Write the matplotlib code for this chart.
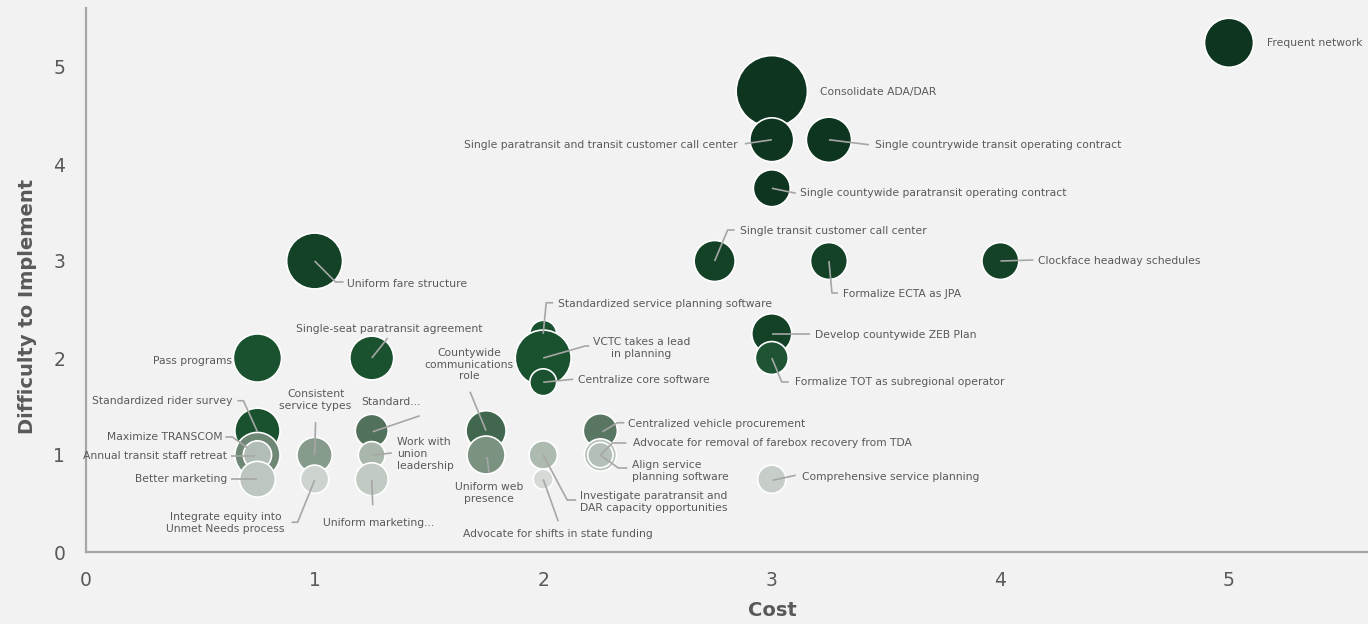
import matplotlib.pyplot as plt
from matplotlib.colors import LinearSegmentedColormap

# initiatives: cost, difficulty, bubble size (impact), colour score
names = [
    "Frequent network", "Consolidate ADA/DAR",
    "Single paratransit and transit customer call center",
    "Single countrywide transit operating contract",
    "Single countywide paratransit operating contract",
    "Single transit customer call center", "Formalize ECTA as JPA",
    "Clockface headway schedules", "Uniform fare structure", "Pass programs",
    "Single-seat paratransit agreement", "Standardized service planning software",
    "VCTC takes a lead\nin planning", "Centralize core software",
    "Develop countywide ZEB Plan", "Formalize TOT as subregional operator",
    "Standardized rider survey", "Maximize TRANSCOM", "Annual transit staff retreat",
    "Better marketing", "Consistent\nservice types", "Integrate equity into\nUnmet Needs process",
    "Standard...", "Work with\nunion\nleadership", "Uniform marketing...",
    "Countywide\ncommunications\nrole", "Uniform web\npresence",
    "Investigate paratransit and\nDAR capacity opportunities",
    "Advocate for shifts in state funding", "Centralized vehicle procurement",
    "Advocate for removal of farebox recovery from TDA",
    "Align service\nplanning software", "Comprehensive service planning",
]
cost = [5, 3, 3, 3.25, 3, 2.75, 3.25, 4, 1, 0.75,
        1.25, 2, 2, 2, 3, 3, 0.75, 0.75, 0.75, 0.75,
        1, 1, 1.25, 1.25, 1.25, 1.75, 1.75, 2, 2, 2.25,
        2.25, 2.25, 3]
difficulty = [5.25, 4.75, 4.25, 4.25, 3.75, 3, 3, 3, 3, 2,
              2, 2.25, 2, 1.75, 2.25, 2, 1.25, 1, 1, 0.75,
              1, 0.75, 1.25, 1, 0.75, 1.25, 1, 1, 0.75, 1.25,
              1, 1, 0.75]
impact = [6.0, 12.7, 4.8, 5.1, 3.4, 4.2, 3.4, 3.4, 7.8, 5.8,
          4.8, 1.8, 7.8, 1.8, 4.0, 2.7, 5.1, 5.1, 2.0, 3.2,
          3.1, 2.0, 2.7, 1.8, 2.7, 4.0, 3.6, 2.0, 1.0, 2.9,
          2.6, 1.6, 2.0]
score = [1.0, 1.0, 1.0, 1.0, 1.0, 0.93, 0.93, 0.93, 0.93, 0.85,
         0.85, 0.85, 0.85, 0.85, 0.93, 0.83, 0.85, 0.45, 0.16, 0.11,
         0.35, 0.04, 0.58, 0.2, 0.09, 0.66, 0.4, 0.18, 0.0, 0.55,
         0.13, 0.15, 0.07]

# label placement: text offset (px), alignment, leader line vertices (px from bubble centre)
layout = {
    0: (38, 0, "left", None),
    1: (48, 1, "left", None),
    2: (-34, 5, "right", [(0, 0), (-27, 4)]),
    3: (46, 5, "left", [(0, 0), (40, 5)]),
    4: (28, 5, "left", [(0, 0), (24, 5)]),
    5: (25, -30, "left", [(0, 0), (13, -31), (20, -31)]),
    6: (14, 33, "left", [(0, 0), (3, 32), (9, 32)]),
    7: (38, 0, "left", [(0, 0), (33, -1)]),
    8: (32, 23, "left", [(0, 0), (21, 21), (29, 21)]),
    9: (-25, 3, "right", None),
    10: (17, -29, "center", [(0, 0), (16, -20)]),
    11: (15, -30, "left", [(0, 0), (3, -31), (10, -31)]),
    12: (98, -10, "center", [(0, 0), (42, -12), (46, -12)]),
    13: (35, -2, "left", [(0, 0), (30, -3)]),
    14: (43, 1, "left", [(0, 0), (38, 0)]),
    15: (23, 24, "left", [(0, 0), (10, 24), (17, 24)]),
    16: (-25, -30, "right", [(-20, -30), (-14, -30), (0, 1)]),
    17: (-35, -18, "right", [(-32, -18), (-25, -18), (-10, -7)]),
    18: (-30, 1, "right", [(-26, 1), (-2, 1)]),
    19: (-30, 0, "right", [(-26, 0), (0, 0)]),
    20: (1, -55, "center", [(1, -33), (0, 0)]),
    21: (-30, 44, "right", [(-23, 43), (-17, 43), (0, 1)]),
    22: (19, -29, "center", [(48, -15), (1, 1)]),
    23: (25, -1, "left", [(1, 0), (20, -2)]),
    24: (7, 44, "center", [(0, 1), (1, 26)]),
    25: (-17, -66, "center", [(-16, -39), (0, 0)]),
    26: (3, 38, "center", [(1, 2), (3, 18)]),
    27: (37, 47, "left", [(0, 0), (24, 45), (33, 45)]),
    28: (15, 55, "center", [(0, 0), (15, 42)]),
    29: (28, -7, "left", [(2, 1), (17, -8), (24, -8)]),
    30: (33, -12, "left", [(0, 0), (12, -12), (26, -12)]),
    31: (32, 16, "left", [(0, 0), (18, 13), (27, 13)]),
    32: (30, -2, "left", [(1, 1), (24, -4)]),
}

W, H = 1368, 624
fig = plt.figure(figsize=(W / 100, H / 100), dpi=100, facecolor="#f2f2f2")
ax = fig.add_axes([86 / W, 72 / H, 1282 / W, 544 / H])
ax.set_facecolor("#f2f2f2")
xmax, ymax = 1282 / 228.6, 544 / 97
ax.set_xlim(0, xmax)
ax.set_ylim(0, ymax)
px_x = 1282 / xmax
px_y = 544 / ymax

cmap = LinearSegmentedColormap.from_list(
    "grn", [(0, "#d6dad7"), (0.35, "#869b8b"), (0.6, "#4d6d57"),
            (0.85, "#1a5230"), (1.0, "#0e3520")])

order = sorted(range(len(names)), key=lambda i: (-difficulty[i], -impact[i]))
ax.scatter([cost[i] for i in order], [difficulty[i] for i in order],
           s=[impact[i] * 207.4 for i in order],
           c=[cmap(score[i]) for i in order],
           edgecolors="white", linewidths=1.2, zorder=3)

for i, name in enumerate(names):
    dx, dy, ha, path = layout[i]
    x0, y0 = cost[i], difficulty[i]
    if path:
        ax.plot([x0 + p[0] / px_x for p in path], [y0 - p[1] / px_y for p in path],
                color="#a6a6a6", lw=1.2, zorder=4, solid_capstyle="butt")
    ax.text(x0 + dx / px_x, y0 - dy / px_y, name, ha=ha, va="center",
            multialignment="left" if ha == "left" else "center",
            fontsize=7.75, color="#595959", zorder=5, linespacing=1.2)

for s in ["top", "right"]:
    ax.spines[s].set_visible(False)
for s in ["left", "bottom"]:
    ax.spines[s].set_color("#a6a6a6")
    ax.spines[s].set_linewidth(1.6)
ax.set_xticks(range(6))
ax.set_yticks(range(6))
ax.tick_params(length=0, labelsize=13.5, labelcolor="#595959")
ax.tick_params(axis="x", pad=14)
ax.tick_params(axis="y", pad=15)

fig.text(28 / W, 1 - 306 / H, "Difficulty to Implement", rotation=90, ha="center",
         va="center", fontsize=14, fontweight="bold", color="#595959")
fig.text(772 / W, 1 - 611 / H, "Cost", ha="center", va="center",
         fontsize=14, fontweight="bold", color="#595959")

fig.savefig("out.png", dpi=100, facecolor=fig.get_facecolor())
plt.close(fig)
